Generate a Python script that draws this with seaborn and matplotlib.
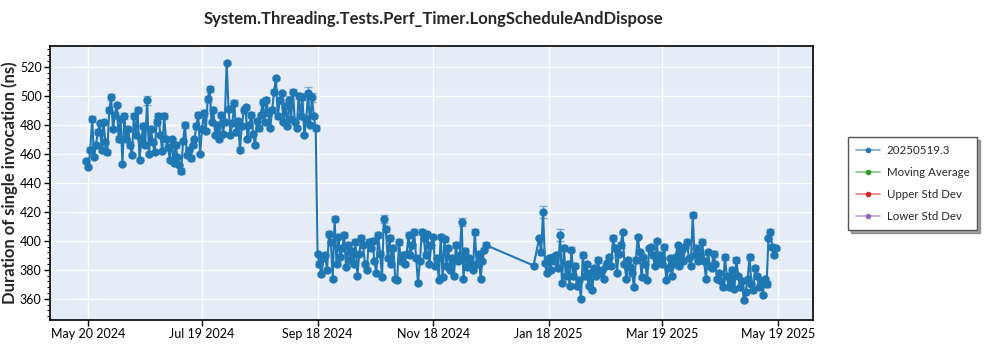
import pandas as pd
import numpy as np
import matplotlib
matplotlib.use("Agg")
import matplotlib.pyplot as plt
import matplotlib.dates as mdates
from matplotlib.lines import Line2D
from matplotlib.ticker import MultipleLocator
import seaborn as sns

# ---------------- data ----------------
title = "System.Threading.Tests.Perf_Timer.LongScheduleAndDispose"
ylabel = "Duration of single invocation (ns)"
series_name = "20250519.3"
legend_labels = ["20250519.3", "Moving Average", "Upper Std Dev", "Lower Std Dev"]

seg1_start = "2024-05-19"
seg1_values = [
    455, 451, 463, 484, 458, 466, 475, 481, 463, 482, 468, 461, 490, 499, 477, 487,
    494, 470, 484, 453, 486, 470, 477, 466, 459, 486, 473, 490, 456, 470, 479, 466,
    497, 460, 477, 468, 461, 482, 486, 473, 462, 486, 470, 465, 456, 470, 454, 466,
    458, 452, 448, 469, 480, 459, 463, 457, 466, 470, 479, 487, 460, 477, 488, 476,
    498, 505, 482, 490, 473, 480, 470, 487, 474, 482, 523, 491, 473, 481, 495, 475,
    483, 463, 479, 490, 492, 470, 480, 487, 474, 466, 483, 478, 487, 496, 482, 497,
    488, 478, 490, 503, 512, 486, 497, 502, 482, 493, 479, 497, 484, 503, 482, 478,
    500, 486, 499, 473, 484, 502, 480, 499, 486, 478,
]
seg1_err = [
    1, 1, 2, 2, 1, 1, 2, 1, 2, 1, 1, 2, 2, 2, 1, 2,
    1, 2, 1, 1, 2, 1, 1, 2, 1, 2, 1, 2, 1, 1, 2, 1,
    3, 1, 2, 1, 1, 2, 2, 1, 1, 2, 1, 2, 1, 1, 1, 2,
    1, 1, 2, 1, 2, 1, 1, 2, 1, 1, 2, 2, 1, 1, 2, 1,
    2, 2, 1, 2, 1, 1, 1, 2, 1, 1, 1, 2, 1, 1, 2, 1,
    1, 2, 1, 2, 2, 1, 1, 2, 1, 1, 1, 2, 1, 2, 1, 2,
    1, 1, 2, 2, 1, 2, 2, 1, 1, 2, 1, 3, 1, 2, 1, 1,
    2, 1, 2, 1, 1, 4, 1, 3, 1, 2,
]

seg2_start = "2024-09-18"
seg2_values = [
    391, 384, 377, 388, 390, 380, 405, 399, 374, 415, 384, 403, 389, 395, 404, 382,
    397, 387, 393, 384, 399, 376, 391, 402, 397, 384, 380, 399, 395, 400, 386, 378,
    404, 391, 375, 415, 408, 388, 402, 384, 395, 374, 373, 399, 386, 390, 384, 391,
    404, 390, 397, 406, 388, 371, 386, 406, 402, 390, 405, 384, 397, 403, 383, 388,
    373, 403, 375, 401, 383, 395, 380, 388, 376, 397, 386, 390, 413, 374, 393, 382,
    388, 384, 380, 406, 384, 391, 374, 386, 394, 397,
]
seg2_err = [
    1, 2, 1, 1, 1, 1, 2, 1, 1, 2, 1, 2, 1, 1, 2, 1,
    2, 1, 1, 1, 2, 1, 1, 2, 1, 1, 1, 2, 1, 2, 1, 1,
    2, 1, 1, 3, 2, 1, 2, 1, 1, 1, 1, 2, 1, 1, 1, 1,
    2, 1, 1, 2, 1, 1, 1, 2, 1, 2, 1, 1, 2, 1, 1, 1,
    1, 2, 1, 2, 1, 1, 1, 1, 1, 2, 1, 1, 3, 1, 2, 1,
    1, 1, 1, 2, 1, 1, 1, 1, 1, 2,
]

gap_dates = ["2025-01-10"]
gap_values = [383]
gap_err = [1]

seg3_start = "2025-01-13"
seg3_values = [
    402, 392, 420, 385, 378, 388, 380, 389, 386, 390, 381, 404, 371, 395, 376, 384,
    369, 394, 376, 383, 369, 373, 360, 390, 376, 384, 369, 378, 366, 381, 376, 387,
    378, 380, 374, 383, 385, 389, 383, 402, 395, 378, 391, 397, 406, 384, 374, 387,
    382, 378, 368, 387, 403, 392, 375, 389, 384, 373, 395, 396, 390, 383, 400, 386,
    390, 384, 396, 373, 381, 388, 376, 384, 389, 397, 383, 393, 386, 396, 399, 388,
    383, 418, 390, 395, 386, 390, 399, 386, 374, 392, 383, 381, 391, 384, 374, 378,
    372, 368, 389, 376, 368, 372, 380, 367, 387, 376, 368, 372, 359, 365, 374, 389,
    370, 366, 381, 376, 368, 372, 363, 374, 370, 402, 406, 396, 390, 395,
]
seg3_err = [
    1, 2, 4, 1, 1, 1, 1, 2, 1, 1, 1, 4, 1, 2, 1, 1,
    1, 2, 1, 2, 1, 1, 1, 2, 1, 1, 1, 2, 1, 1, 1, 2,
    1, 1, 1, 2, 1, 1, 1, 2, 2, 1, 1, 2, 1, 1, 1, 1,
    2, 1, 1, 2, 1, 1, 1, 1, 2, 1, 1, 1, 2, 1, 1, 1,
    1, 1, 2, 1, 1, 1, 1, 1, 2, 1, 2, 1, 1, 1, 2, 1,
    1, 2, 1, 1, 1, 1, 2, 1, 1, 2, 1, 1, 2, 1, 1, 1,
    1, 1, 2, 1, 1, 1, 2, 1, 2, 1, 1, 1, 1, 1, 1, 2,
    1, 1, 2, 1, 1, 1, 1, 1, 2, 1, 2, 2, 1, 1,
]

tick_dates = ["2024-05-20", "2024-07-19", "2024-09-18", "2024-11-18",
              "2025-01-18", "2025-03-19", "2025-05-19"]
x_range = ["2024-04-29 18:00", "2025-06-06 12:00"]
y_range = [345.5, 534.5]

# ---------------- build frame ----------------
dates = list(pd.date_range(seg1_start, periods=len(seg1_values), freq="D"))
dates += list(pd.date_range(seg2_start, periods=len(seg2_values), freq="D"))
dates += list(pd.to_datetime(gap_dates))
dates += list(pd.date_range(seg3_start, periods=len(seg3_values), freq="D"))
values = seg1_values + seg2_values + gap_values + seg3_values
errs = seg1_err + seg2_err + gap_err + seg3_err
df = pd.DataFrame({"date": dates, "value": values, "err": errs, "series": series_name})

# ---------------- style ----------------
sns.set_theme(style="darkgrid", rc={
    "axes.facecolor": "#e5ecf6",
    "grid.color": "white",
    "grid.linewidth": 1.0,
    "axes.edgecolor": "black",
    "axes.linewidth": 1.2,
    "xtick.bottom": True,
    "ytick.left": True,
    "xtick.color": "black",
    "ytick.color": "black",
})
plt.rcParams["font.family"] = ["Lato", "DejaVu Sans"]

colors = ["#1f77b4", "#2ca02c", "#d62728", "#9467bd"]
blue_rgb = matplotlib.colors.to_rgb(colors[0])

fig = plt.figure(figsize=(10, 3.5), dpi=100)
ax = fig.add_axes([0.05, 0.086, 0.763, 0.783])

ax.errorbar(df["date"], df["value"], yerr=df["err"], fmt="none",
            ecolor=(*blue_rgb, 0.55), elinewidth=1.0, capsize=3, capthick=1.0, zorder=2)
sns.lineplot(data=df, x="date", y="value", ax=ax, color=colors[0],
             linewidth=1.5, marker="o", markersize=6, markeredgewidth=0,
             legend=False, estimator=None, sort=True, zorder=3)

ax.set_xlim(pd.to_datetime(x_range[0]), pd.to_datetime(x_range[1]))
ax.set_ylim(*y_range)
ax.set_xticks(pd.to_datetime(tick_dates))
ax.xaxis.set_major_formatter(mdates.DateFormatter("%b %d %Y"))
ax.yaxis.set_major_locator(MultipleLocator(20))
ax.yaxis.set_minor_locator(MultipleLocator(4))
ax.tick_params(axis="both", which="major", labelsize=9, length=4, width=1, pad=2)
ax.tick_params(axis="y", which="minor", length=2, width=0.8, left=True)
ax.grid(which="minor", visible=False)
ax.set_xlabel("")
ax.set_ylabel(ylabel, fontsize=12, fontweight="bold")
ax.yaxis.set_label_coords(-0.042, 0.5)
for s in ax.spines.values():
    s.set_visible(True)
    s.set_color("black")

fig.text(0.433, 0.947, title, ha="center", va="center", fontsize=12, fontweight="bold")

handles = []
for c in colors:
    rgb = matplotlib.colors.to_rgb(c)
    handles.append(Line2D([0], [0], color=(*rgb, 0.6), linewidth=1.2, marker="o",
                          markersize=4, markerfacecolor=c, markeredgewidth=0))
leg = fig.legend(handles, legend_labels, loc="upper left",
                 bbox_to_anchor=(0.848, 0.609), bbox_transform=fig.transFigure,
                 borderaxespad=0, fontsize=8.3, frameon=True, fancybox=False, shadow=True,
                 edgecolor="#555555", facecolor="white", handlelength=2.1,
                 labelspacing=0.95, borderpad=0.7, handletextpad=0.55)
leg.get_frame().set_linewidth(1.0)

fig.savefig("out.png", dpi=100)
